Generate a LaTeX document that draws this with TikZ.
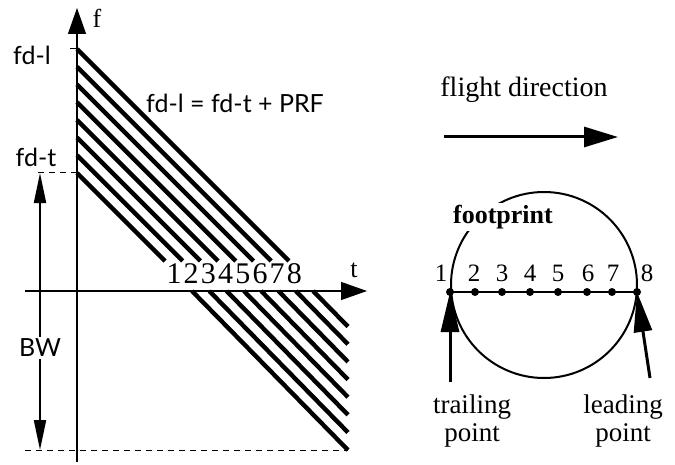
\documentclass[tikz,border=0pt]{standalone}
\usepackage{fontspec}
\setmainfont{Liberation Serif}
\newfontfamily\lblsans{Lato}
\usepackage{tikz}
\usetikzlibrary{arrows.meta}
\tikzstyle{lbl}      = [font=\fontsize{13}{14}\selectfont, inner sep=1pt]
\tikzstyle{sanslbl}  = [font=\lblsans\fontsize{12.5}{14}\selectfont, inner sep=1pt]
\tikzstyle{axis}     = [line width=0.7pt, -{Triangle[length=13pt, width=9pt]}]
\tikzstyle{echo}     = [line width=2.2pt]
\tikzstyle{guide}    = [line width=0.5pt, dash pattern=on 3pt off 2.5pt]
\tikzstyle{bwarrow}  = [line width=1pt, -{Triangle[length=15pt, width=6pt]}]
\tikzstyle{bigarrow} = [line width=1.5pt, -{Triangle[length=17pt, width=10pt]}]
\tikzstyle{ptarrow}  = [line width=1.5pt, -{Triangle[length=20pt, width=9pt]}]

\begin{document}
\begin{tikzpicture}[x=0.5pt, y=-0.5pt]
  \useasboundingbox (0,0) rectangle (675,465);

  % Axes
  \coordinate (fbot)   at (77,462);
  \coordinate (ftop)   at (77,8);
  \coordinate (tleft)  at (25,291);
  \coordinate (tright) at (367,291);
  \draw[axis] (fbot) -- (ftop);
  \draw[axis] (tleft) -- (tright);
  \node[lbl] (flbl) at (97,18)  {f};
  \node[lbl] (tlbl) at (354,270) {t};

  % Doppler bounds
  \coordinate (fdl) at (77,49);
  \coordinate (fdt) at (77,173);
  \node[sanslbl] (fdllbl) at (32,55)  {fd-l};
  \node[sanslbl] (fdtlbl) at (36,157) {fd-t};
  \draw[line width=0.5pt] (fdl) -- ++(-7,0);
  \draw[guide] (fdt) -- ++(-39,0);
  \draw[guide] (25,450) -- (348,450);
  \node[sanslbl] (prf) at (235,103) {fd-l = fd-t + PRF};

  % Bandwidth
  \node[sanslbl, fill=white] (bw) at (40,348) {BW};
  \draw[bwarrow] (bw.north) -- (bw.north |- fdt);
  \draw[bwarrow] (bw.south) -- (40,450);

  % Echo histories
  \foreach \k [evaluate=\k as \n using int(\k+1)] in {0,...,7} {
    \pgfmathsetmacro{\ys}{173-17.7*\k}
    \pgfmathsetmacro{\xe}{77+261-\ys}
    \draw[echo] (77,\ys) -- (\xe,261);
    \pgfmathsetmacro{\xb}{192+17.3*\k}
    \pgfmathsetmacro{\ye}{291+1.02*(348-\xb)}
    \draw[echo] (\xb,291) -- (348,\ye);
    \node[lbl, font=\fontsize{15}{16}\selectfont] (n\n) at (174+17.2*\k,274) {\n};
  }

  % Flight direction
  \node[lbl, font=\fontsize{14}{16}\selectfont] (fdir) at (524,90) {flight direction};
  \coordinate (fdtail) at (444,137);
  \coordinate (fdhead) at (618,137);
  \draw[bigarrow] (fdtail) -- (fdhead);

  % Footprint
  \node[draw, circle, line width=1pt, minimum size=93pt, inner sep=0pt] (fp) at (544,285) {};
  \node[lbl, font=\bfseries\fontsize{13}{14}\selectfont, fill=white] (fplbl) at (503,217) {footprint};
  \foreach \k/\x/\lx in {1/450/441, 2/475/474, 3/502/502, 4/530/530,
                         5/558/558, 6/587/588, 7/612/613, 8/637/647} {
    \coordinate (p\k) at (\x,292);
    \node[lbl, font=\fontsize{12.5}{14}\selectfont] (pl\k) at (\lx,273) {\k};
  }
  \draw[line width=1pt] (p1) -- (p8);
  \foreach \k in {1,...,8} \fill (p\k) circle[radius=2pt];

  % Trailing / leading points
  \node[lbl, align=center, font=\fontsize{13.5}{14}\selectfont] (trail) at (472,421) {trailing\\point};
  \node[lbl, align=center, font=\fontsize{13.5}{14}\selectfont] (lead)  at (623,421) {leading\\point};
  \coordinate (trtail) at (450,382);
  \coordinate (ldtail) at (650,378);
  \draw[ptarrow] (trtail) -- (p1);
  \draw[ptarrow] (ldtail) -- (p8);
\end{tikzpicture}
\end{document}
